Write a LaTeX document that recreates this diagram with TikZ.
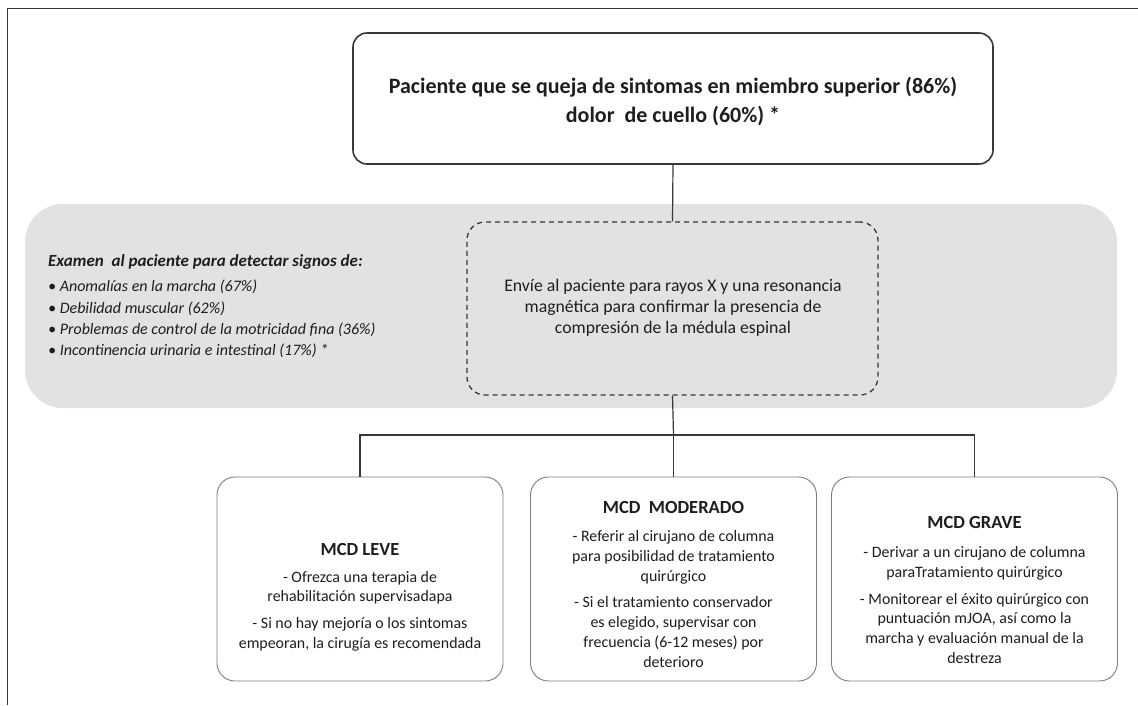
\documentclass[tikz,border=0pt]{standalone}
\usepackage{fontspec}
\setmainfont{Carlito}
\definecolor{bandgray}{RGB}{225,226,228}
\definecolor{darkline}{RGB}{55,55,55}
\definecolor{boxline}{RGB}{125,125,125}
\definecolor{txt}{RGB}{30,30,30}
\begin{document}
\begin{tikzpicture}[x=1pt,y=-1pt,
  band/.style={fill=bandgray, draw=none, rounded corners=38pt, minimum width=1092pt, minimum height=204pt, inner sep=0pt},
  topbox/.style={draw=darkline, line width=1.6pt, rounded corners=14pt, minimum width=640pt, minimum height=131pt, inner sep=0pt},
  dashbox/.style={draw=darkline, line width=1.3pt, dash pattern=on 5pt off 4pt, rounded corners=18pt, minimum width=411pt, minimum height=173pt, inner sep=0pt},
  casebox/.style={draw=boxline, line width=0.9pt, rounded corners=18pt, fill=white, minimum width=286pt, minimum height=204pt, inner sep=0pt},
  conn/.style={draw=darkline, line width=1.2pt},
  casetitle/.style={font=\fontsize{18.5}{20}\selectfont\bfseries, text=txt, inner sep=0pt},
  casebody/.style={font=\fontsize{15.9}{19.7}\selectfont, text=txt, align=center, inner sep=0pt},
]
\useasboundingbox (0,0) rectangle (1138,705);
\draw[line width=0.9pt, darkline] (7,705) -- (7,8) -- (1138,8);

\node[band] (band) at (571,306) {};
\node[topbox] (top) at (673,98.5) {};
\node[font=\fontsize{22}{29}\selectfont\bfseries, text=txt, align=center, inner sep=0pt] (toptext) at (673,101)
  {Paciente que se queja de sintomas en miembro superior (86\%)\\dolor\ \ de cuello (60\%) *};

\node[dashbox] (dash) at (672.5,308.5) {};
\node[font=\fontsize{17.7}{21}\selectfont, text=txt, align=center, inner sep=0pt] (dashtext) at (673,308)
  {Envíe al paciente para rayos X y una resonancia\\magnética para confirmar la presencia de\\compresión de la médula espinal};

\node[font=\fontsize{17}{20}\selectfont\bfseries\itshape, text=txt, anchor=west, inner sep=0pt] (exam) at (48,262)
  {Examen\ \ al paciente para detectar signos de:};
\node[font=\fontsize{16}{21.3}\selectfont\itshape, text=txt, anchor=north west, align=left, inner sep=0pt] (signs) at (48,280)
  {• Anomalías en la marcha (67\%)\\• Debilidad muscular (62\%)\\• Problemas de control de la motricidad fina (36\%)\\• Incontinencia urinaria e intestinal (17\%) *};

\node[casebox] (leve) at (360,579) {};
\node[casebox] (mod) at (673.5,579) {};
\node[casebox] (grave) at (974.5,579) {};

\node[casetitle] (levet) at (360,549) {MCD LEVE};
\node[casebody] (leveb) at (360,611)
  {- Ofrezca una terapia de\\rehabilitación supervisadapa\\[7pt] - Si no hay mejoría o los sintomas\\empeoran, la cirugía es recomendada};

\node[casetitle] (modt) at (673.5,507) {MCD\ \ MODERADO};
\node[casebody] (modb) at (673.5,599)
  {- Referir al cirujano de columna\\para posibilidad de tratamiento\\quirúrgico\\[7pt]- Si el tratamiento conservador\\es elegido, supervisar con\\frecuencia (6-12 meses) por\\deterioro};

\node[casetitle] (gravet) at (974.5,522) {MCD GRAVE};
\node[casebody] (graveb) at (974.5,605)
  {- Derivar a un cirujano de columna\\paraTratamiento quirúrgico\\[7pt]- Monitorear el éxito quirúrgico con\\puntuación mJOA, así como la\\marcha y evaluación manual de la\\destreza};

\coordinate (j) at (673.5,435);
\draw[conn] (top.south) -- (dash.north);
\draw[conn] (dash.south) -- (j);
\draw[conn] (leve.north) |- (j) -| (grave.north);
\draw[conn] (j) -- (mod.north);
\end{tikzpicture}
\end{document}
